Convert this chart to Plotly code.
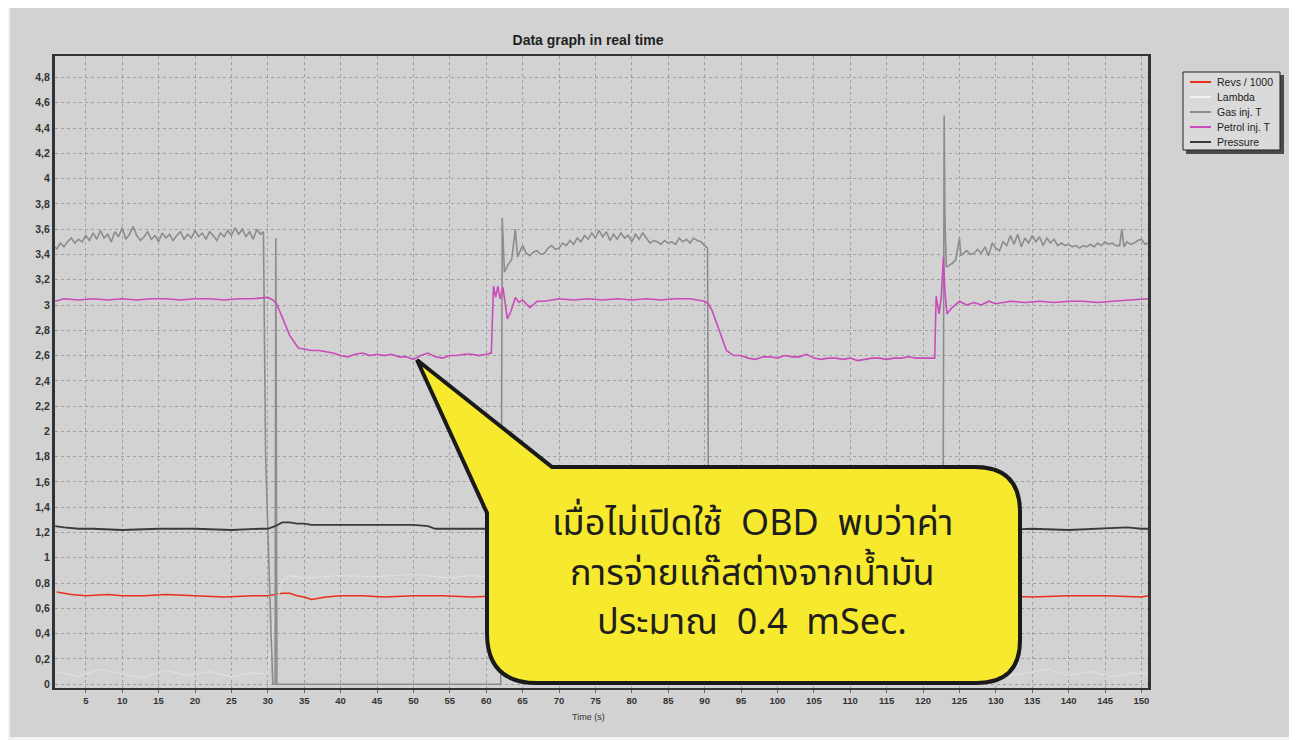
import plotly.graph_objects as go

# ---------------- data ----------------
revs_t = [1, 2, 3, 5, 8, 10, 13, 16, 20, 24, 28, 30, 31, 32, 33, 34, 35, 36, 37, 38, 40, 43, 46, 50, 54, 58, 62,
          70, 80, 90, 100, 110, 120, 125, 130, 135, 140, 145, 150, 150.9]
revs_v = [0.73, 0.72, 0.71, 0.70, 0.71, 0.70, 0.70, 0.71, 0.70, 0.69, 0.70, 0.70, 0.71, 0.72, 0.72, 0.70, 0.69,
          0.67, 0.68, 0.69, 0.70, 0.70, 0.69, 0.70, 0.70, 0.69, 0.70,
          0.70, 0.70, 0.70, 0.70, 0.70, 0.70, 0.70, 0.70, 0.69, 0.70, 0.70, 0.69, 0.70]

lambda_t = [1, 4, 7, 10, 13, 16, 19, 22, 25, 28, 30, 31, 32, 33, 35, 40, 45, 50, 55, 58, 60, 61, 62, 65, 70,
            80, 90, 91, 100, 110, 120, 122, 125, 128, 131, 134, 137, 140, 143, 146, 149, 150.9]
lambda_v = [0.10, 0.06, 0.12, 0.08, 0.05, 0.11, 0.07, 0.10, 0.06, 0.09, 0.08, 0.60, 0.82, 0.86, 0.84, 0.86, 0.85,
            0.87, 0.84, 0.86, 0.85, 0.30, 0.08, 0.10, 0.07, 0.09, 0.08, 0.85, 0.86, 0.85, 0.84, 0.10, 0.07,
            0.11, 0.06, 0.09, 0.12, 0.07, 0.10, 0.06, 0.09, 0.08]

gas_t = [0.8, 1, 1.5, 2, 2.5, 3, 3.5, 4, 4.5, 5, 5.5, 6, 6.5, 7, 7.5, 8, 8.5, 9, 9.5, 10, 10.5, 11, 11.5, 12,
         12.5, 13, 13.5, 14, 14.5, 15, 15.5, 16, 16.5, 17, 17.5, 18, 18.5, 19, 19.5, 20, 20.5, 21, 21.5, 22,
         22.5, 23, 23.5, 24, 24.5, 25, 25.5, 26, 26.5, 27, 27.5, 28, 28.5, 29, 29.4, 29.7, 30.5, 30.7, 31.0,
         31.1, 31.25, 45, 62.0, 62.2, 62.5, 63, 63.5, 64, 64.3, 65, 65.5, 66, 66.5, 67, 67.5, 68, 68.5, 69, 69.5,
         70, 70.5, 71, 71.5, 72, 72.5, 73, 73.5, 74, 74.5, 75, 75.5, 76, 76.5, 77, 77.5, 78, 78.5, 79, 79.5,
         80, 80.5, 81, 81.5, 82, 82.5, 83, 83.5, 84, 84.5, 85, 85.5, 86, 86.5, 87, 87.5, 88, 88.5, 89, 89.5,
         90, 90.4, 90.6, 105, 122.7, 122.9, 123.0, 123.2, 124, 124.5, 125, 125.2, 126, 126.5, 127, 127.5, 128,
         128.5, 129, 129.5, 130, 130.5, 131, 131.5, 132, 132.5, 133, 133.5, 134, 134.5, 135, 135.5, 136, 136.5,
         137, 137.5, 138, 138.5, 139, 139.5, 140, 140.5, 141, 141.5, 142, 142.5, 143, 143.5, 144, 144.5, 145,
         145.5, 146, 146.5, 147, 147.3, 147.6, 148, 148.5, 149, 149.5, 150, 150.5, 150.9]
gas_v = [3.46, 3.44, 3.49, 3.46, 3.50, 3.53, 3.49, 3.52, 3.50, 3.55, 3.51, 3.57, 3.52, 3.59, 3.53, 3.56, 3.50,
         3.58, 3.54, 3.61, 3.52, 3.56, 3.62, 3.55, 3.51, 3.54, 3.58, 3.52, 3.55, 3.50, 3.57, 3.53, 3.56, 3.51,
         3.55, 3.58, 3.52, 3.56, 3.53, 3.59, 3.54, 3.57, 3.52, 3.58, 3.55, 3.51, 3.57, 3.54, 3.59, 3.55, 3.61,
         3.56, 3.60, 3.54, 3.58, 3.52, 3.60, 3.56, 3.58, 1.80, 0.30, 0.0, 0.0, 3.53, 0.0, 0.0, 0.0, 3.69, 3.26,
         3.32, 3.36, 3.60, 3.38, 3.47, 3.41, 3.39, 3.42, 3.43, 3.40, 3.41, 3.45, 3.47, 3.44, 3.45, 3.49, 3.47,
         3.51, 3.48, 3.53, 3.50, 3.55, 3.52, 3.57, 3.53, 3.59, 3.54, 3.58, 3.51, 3.56, 3.52, 3.57, 3.53, 3.55,
         3.50, 3.56, 3.52, 3.57, 3.53, 3.49, 3.51, 3.50, 3.48, 3.51, 3.49, 3.50, 3.48, 3.53, 3.50, 3.52, 3.49,
         3.53, 3.51, 3.50, 3.47, 3.45, 0.0, 0.0, 0.0, 4.50, 3.71, 3.30, 3.33, 3.36, 3.53, 3.39, 3.43, 3.40, 3.41,
         3.44, 3.41, 3.46, 3.39, 3.49, 3.45, 3.43, 3.50, 3.47, 3.55, 3.48, 3.56, 3.46, 3.53, 3.49, 3.55, 3.50,
         3.54, 3.47, 3.53, 3.49, 3.52, 3.47, 3.49, 3.47, 3.48, 3.46, 3.47, 3.45, 3.47, 3.46, 3.48, 3.46, 3.49,
         3.47, 3.50, 3.48, 3.49, 3.47, 3.47, 3.60, 3.46, 3.50, 3.48, 3.49, 3.51, 3.52, 3.48, 3.49]

petrol_t = [0.8, 2, 4, 6, 8, 10, 12, 14, 16, 18, 20, 22, 24, 26, 28, 30, 30.7, 31.2, 32, 33, 34.2, 35, 36, 37, 38,
            39, 40, 41, 42, 43, 44, 45, 46, 47, 48, 49, 50, 51, 52, 53, 54, 55, 56, 57, 58, 59, 60, 60.7, 61.0,
            61.3, 61.6, 61.9, 62.3, 62.5, 62.9, 63.4, 64, 64.5, 65, 66, 67, 68, 69, 70, 72, 74, 76, 78, 80, 82,
            84, 86, 88, 90, 90.5, 91, 92, 93, 94, 95, 96, 97, 98, 99, 100, 101, 102, 103, 104, 105, 106, 107,
            108, 109, 110, 111, 112, 113, 114, 115, 116, 117, 118, 119, 120, 121.6, 121.8, 122.2, 122.5, 122.8,
            123.0, 123.3, 124, 125, 126, 127, 128, 129, 130, 132, 134, 136, 138, 140, 142, 144, 146, 148, 150,
            150.9]
petrol_v = [3.03, 3.05, 3.04, 3.05, 3.04, 3.05, 3.04, 3.05, 3.05, 3.04, 3.05, 3.05, 3.04, 3.05, 3.05, 3.06, 3.04,
            3.01, 2.90, 2.76, 2.66, 2.65, 2.64, 2.64, 2.63, 2.62, 2.60, 2.59, 2.61, 2.62, 2.60, 2.61, 2.60, 2.61,
            2.59, 2.59, 2.57, 2.60, 2.62, 2.59, 2.58, 2.60, 2.60, 2.61, 2.61, 2.60, 2.61, 2.62, 3.15, 3.06, 3.15,
            3.05, 3.14, 3.04, 2.89, 2.95, 3.06, 3.02, 3.04, 2.98, 3.03, 3.03, 3.04, 3.05, 3.04, 3.05, 3.04, 3.05,
            3.04, 3.05, 3.04, 3.05, 3.05, 3.03, 3.01, 2.96, 2.80, 2.64, 2.60, 2.60, 2.58, 2.57, 2.59, 2.59, 2.58,
            2.60, 2.59, 2.59, 2.61, 2.58, 2.57, 2.58, 2.58, 2.57, 2.58, 2.56, 2.57, 2.58, 2.58, 2.57, 2.58, 2.58,
            2.59, 2.58, 2.58, 2.58, 3.07, 2.93, 3.06, 3.38, 3.11, 2.93, 2.98, 3.03, 3.00, 3.02, 3.00, 3.03, 3.01,
            3.03, 3.02, 3.03, 3.02, 3.03, 3.03, 3.02, 3.03, 3.04, 3.05, 3.05]

pres_t = [0.8, 2, 4, 6, 10, 15, 20, 25, 29, 30, 31, 32, 33, 34, 35, 36, 40, 45, 50, 52, 53, 56, 60, 70, 80, 90,
          100, 110, 120, 130, 135, 140, 145, 148, 150, 150.9]
pres_v = [1.25, 1.24, 1.23, 1.23, 1.22, 1.23, 1.23, 1.22, 1.23, 1.23, 1.25, 1.28, 1.28, 1.27, 1.27, 1.26, 1.26,
          1.26, 1.26, 1.25, 1.23, 1.23, 1.23, 1.23, 1.23, 1.23, 1.23, 1.23, 1.23, 1.22, 1.23, 1.22, 1.23, 1.24,
          1.23, 1.23]

y_ticks = [0, 0.2, 0.4, 0.6, 0.8, 1, 1.2, 1.4, 1.6, 1.8, 2, 2.2, 2.4, 2.6, 2.8, 3, 3.2, 3.4, 3.6, 3.8, 4, 4.2,
           4.4, 4.6, 4.8]
y_labels = ["0", "0,2", "0,4", "0,6", "0,8", "1", "1,2", "1,4", "1,6", "1,8", "2", "2,2", "2,4", "2,6", "2,8",
            "3", "3,2", "3,4", "3,6", "3,8", "4", "4,2", "4,4", "4,6", "4,8"]
x_ticks = list(range(5, 151, 5))
x_labels = [str(v) for v in x_ticks]

series_names = ["Revs / 1000", "Lambda", "Gas inj. T", "Petrol inj. T", "Pressure"]
callout_lines = ["เมื่อไม่เปิดใช้  OBD  พบว่าค่า", "การจ่ายแก๊สต่างจากน้ำมัน", "ประมาณ  0.4  mSec."]

# ---------------- layout geometry (screen px -> paper) ----------------
OFF = 8                      # page body margin
W, H = 1289, 732
L, R, T, B = 47, 149, 48, 52
PW, PH = W - L - R, H - T - B


def px(x):
    return (x - OFF - L) / PW


def py(y):
    return (H - B - (y - OFF)) / PH


fig = go.Figure()
colors = ["#e8301c", "#dfdfdf", "#8c8c8c", "#c94cba", "#3a3a3a"]
widths = [1.6, 1.2, 1.6, 1.6, 1.8]
for name, xs, ys, c, w in zip(series_names,
                              [revs_t, lambda_t, gas_t, petrol_t, pres_t],
                              [revs_v, lambda_v, gas_v, petrol_v, pres_v],
                              colors, widths):
    fig.add_trace(go.Scatter(x=xs, y=ys, mode="lines", name=name, showlegend=False,
                             line=dict(color=c, width=w)))

shapes = []
annotations = []
# outer gray panel
shapes.append(dict(type="rect", xref="paper", yref="paper", x0=px(10), x1=px(1290), y0=py(8), y1=py(737),
                   fillcolor="#d2d2d2", line=dict(width=0), layer="below"))

# legend box (drawn by hand to match the compact original)
shapes.append(dict(type="rect", xref="paper", yref="paper", x0=px(1186), x1=px(1284), y0=py(75), y1=py(154),
                   fillcolor="#4a4a4a", line=dict(width=0), layer="above"))
shapes.append(dict(type="rect", xref="paper", yref="paper", x0=px(1183), x1=px(1280), y0=py(72), y1=py(150),
                   fillcolor="#dadada", line=dict(color="#222222", width=1), layer="above"))
for i, (name, c) in enumerate(zip(series_names, colors)):
    yy = 82 + i * 15
    shapes.append(dict(type="line", xref="paper", yref="paper", x0=px(1190), x1=px(1211), y0=py(yy), y1=py(yy),
                       line=dict(color=c if i != 1 else "#f2f2f2", width=2), layer="above"))
    annotations.append(dict(xref="paper", yref="paper", x=px(1215), y=py(yy), text=name, showarrow=False,
                            xanchor="left", yanchor="middle",
                            font=dict(family="Arial, Liberation Sans", size=10.5, color="#222222")))


def P(x, y):
    return f"{px(x):.5f},{py(y):.5f}"


bubble = ("M " + P(417, 360) + " L " + P(552, 467) + " L " + P(975, 467) +
          " Q " + P(1020, 467) + " " + P(1020, 512) + " L " + P(1020, 640) +
          " Q " + P(1020, 683) + " " + P(977, 683) + " L " + P(537, 683) +
          " Q " + P(487, 683) + " " + P(487, 633) + " L " + P(487, 513) + " Z")
shapes.append(dict(type="path", xref="paper", yref="paper", path=bubble, fillcolor="#f7ea2e",
                   line=dict(color="#1a1a1a", width=4), layer="above"))

for txt, yy in zip(callout_lines, [524, 574, 623]):
    annotations.append(dict(xref="paper", yref="paper", x=px(752), y=py(yy), text=txt, showarrow=False,
                            xanchor="center", yanchor="middle",
                            font=dict(family="Noto Sans Thai, Loma, Garuda, Noto Sans, sans-serif",
                                      size=36, color="#1e1e1e")))
annotations.append(dict(xref="paper", yref="paper", x=px(588), y=py(717), text="Time (s)", showarrow=False,
                        xanchor="center", yanchor="middle",
                        font=dict(family="Arial, Liberation Sans", size=9, color="#333333")))

fig.update_layout(
    width=W, height=H,
    margin=dict(l=L, r=R, t=T, b=B),
    paper_bgcolor="#f2f2f2",
    plot_bgcolor="#d4d4d4",
    title=dict(text="<b>Data graph in real time</b>", xref="container", x=(588 - OFF) / W, xanchor="center",
               yref="container", y=(H - (40 - OFF)) / H, yanchor="middle",
               font=dict(family="Arial, Liberation Sans", size=14, color="#222222")),
    showlegend=False,
    shapes=shapes,
    annotations=annotations,
    xaxis=dict(range=[0.77, 150.9], tickmode="array", tickvals=x_ticks, ticktext=x_labels,
               showgrid=True, gridcolor="#a0a0a0", griddash="3px,3px", gridwidth=1,
               showline=True, linecolor="#333333", linewidth=2, mirror=True, zeroline=False,
               ticks="outside", ticklen=3, tickcolor="#666666",
               tickfont=dict(family="Arial, Liberation Sans", size=9.5, color="#333333", weight="bold")),
    yaxis=dict(range=[-0.03, 4.97], tickmode="array", tickvals=y_ticks, ticktext=y_labels,
               showgrid=True, gridcolor="#a0a0a0", griddash="3px,3px", gridwidth=1,
               showline=True, linecolor="#333333", linewidth=3, mirror=True, zeroline=False,
               ticks="", tickfont=dict(family="Arial, Liberation Sans", size=10.5, color="#333333",
                                       weight="bold")),
)

fig.write_html("out.html")
